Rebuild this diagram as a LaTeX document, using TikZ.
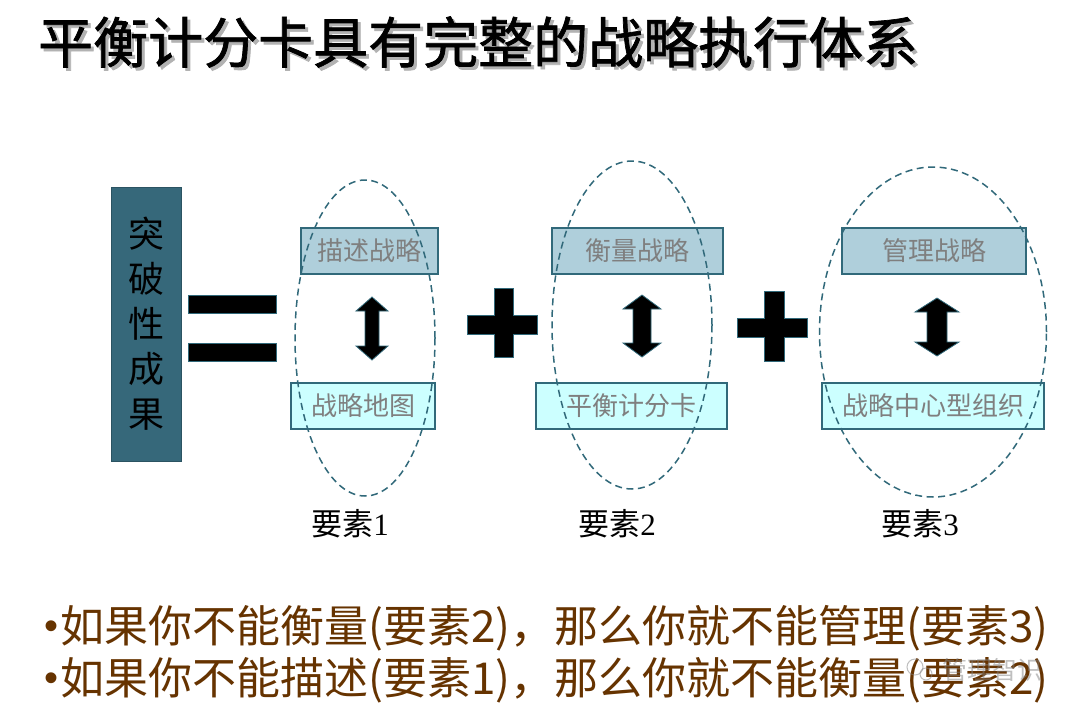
\documentclass[tikz,border=0pt]{standalone}
\usepackage{fontspec}
\newfontfamily\cjk{Noto Sans CJK SC}
\newfontfamily\cjkt[FakeBold=1.3]{Noto Sans CJK SC}
\newfontfamily\serifdig{Liberation Serif}
\newfontfamily\sansbul{Liberation Sans}
\usetikzlibrary{shapes.geometric}
\definecolor{teal1}{HTML}{31697A}
\definecolor{topfill}{HTML}{AFCFDB}
\definecolor{botfill}{HTML}{CCFFFF}
\definecolor{txtgray}{HTML}{7F7F7F}
\definecolor{leftbox}{HTML}{36687A}
\definecolor{brown1}{HTML}{663300}
\newcommand\DArrow[6]{% name, cx, top, bottom, half head width, half shaft width
  \coordinate (#1) at (#2,{(#3+#4)/2});
  \filldraw[fill=black,draw=teal1,line width=0.8pt]
    (#2,#3) -- (#2+#5,#3+14) -- (#2+#6,#3+14) -- (#2+#6,#4-14) -- (#2+#5,#4-14)
    -- (#2,#4) -- (#2-#5,#4-14) -- (#2-#6,#4-14) -- (#2-#6,#3+14) -- (#2-#5,#3+14) -- cycle;}
\newcommand\PlusSign[9]{% name, hx1, hx2, hy1, hy2, vx1, vx2, vy1, vy2
  \coordinate (#1) at ({(#2+#3)/2},{(#4+#5)/2});
  \filldraw[fill=black,draw=teal1,line width=1pt]
    (#2,#4) -- (#6,#4) -- (#6,#8) -- (#7,#8) -- (#7,#4) -- (#3,#4) -- (#3,#5) -- (#7,#5)
    -- (#7,#9) -- (#6,#9) -- (#6,#5) -- (#2,#5) -- cycle;}
\tikzset{
  topbox/.style={draw=teal1,line width=1.2pt,fill=topfill,minimum height=46pt,inner sep=0pt,
    font=\cjk\fontsize{26}{26}\selectfont,text=txtgray},
  botbox/.style={draw=teal1,line width=1.2pt,fill=botfill,minimum height=46pt,inner sep=0pt,
    font=\cjk\fontsize{26}{26}\selectfont,text=txtgray},
  dashell/.style={ellipse,draw=teal1,dash pattern=on 7pt off 4.5pt,line width=1.5pt,inner sep=0pt},
  elemlabel/.style={font=\cjk\fontsize{31}{31}\selectfont,text=black},
  bullettext/.style={anchor=west,font=\cjk\fontsize{44}{44}\selectfont,text=brown1,inner sep=0pt},
  bulletdot/.style={anchor=west,font=\sansbul\fontsize{40}{40}\selectfont,text=brown1,inner sep=0pt},
  eqbar/.style={draw=teal1,line width=1pt,fill=black,minimum width=88pt,minimum height=18pt,inner sep=0pt},
  titletext/.style={anchor=west,inner sep=0pt,font=\cjkt\fontsize{55}{55}\selectfont}
}
\begin{document}
\begin{tikzpicture}[x=1pt,y=-1pt]
\useasboundingbox (0,0) rectangle (1080,721);
\fill[white] (0,0) rectangle (1080,721);
% title with shadow
\node[titletext,text=black!30] (titleshadow) at (41,45) {平衡计分卡具有完整的战略执行体系};
\node[titletext,text=black] (title) at (38,42) {平衡计分卡具有完整的战略执行体系};
% left box
\node[fill=leftbox,draw=leftbox!80!black,line width=0.6pt,minimum width=70pt,minimum height=274pt,inner sep=0pt,
  align=center,font=\cjk\fontsize{36}{45}\selectfont] (res) at (146,324) {突\\破\\性\\成\\果};
% equals
\node[eqbar] (eq1) at (232,304) {};
\node[eqbar] (eq2) at (232,352) {};
% element 1
\node[topbox,minimum width=137pt] (t1) at (369.5,251) {描述战略};
\node[botbox,minimum width=144pt] (b1) at (363,406) {战略地图};
\DArrow{a1}{372}{297}{360}{16}{7}
\node[dashell,minimum width=140pt,minimum height=316pt] (e1) at (365,338) {};
\node[elemlabel] (l1) at (350,524) {要素{\serifdig 1}};
% plus 1
\PlusSign{p1}{467}{537}{315}{334}{494}{513}{288}{357}
% element 2
\node[topbox,minimum width=171pt] (t2) at (637.5,251) {衡量战略};
\node[botbox,minimum width=191pt] (b2) at (631.5,406) {平衡计分卡};
\DArrow{a2}{642}{295}{357}{19}{9}
\node[dashell,minimum width=160pt,minimum height=328pt] (e2) at (632,325) {};
\node[elemlabel] (l2) at (617,524) {要素{\serifdig 2}};
% plus 2
\PlusSign{p2}{737}{807}{318}{337}{764}{784}{291}{361}
% element 3
\node[topbox,minimum width=184pt] (t3) at (934,251) {管理战略};
\node[botbox,minimum width=222pt] (b3) at (933,406) {战略中心型组织};
\DArrow{a3}{937}{298}{356}{22}{10}
\node[dashell,minimum width=227pt,minimum height=330pt] (e3) at (933,332) {};
\node[elemlabel] (l3) at (920,524) {要素{\serifdig 3}};
% bottom lines
\node[bulletdot] (d1) at (44,630) {•};
\node[bullettext] (s1) at (60,628) {如果你不能衡量(要素2)，那么你就不能管理(要素3)};
\node[bulletdot] (d2) at (44,682) {•};
\node[bullettext] (s2) at (60,680) {如果你不能描述(要素1)，那么你就不能衡量(要素2)};
% watermark
\node[font=\cjk\fontsize{25}{25}\selectfont,text=gray,opacity=0.5,inner sep=0pt] (wm) at (992,670) {管理智识};
\draw[gray,opacity=0.5,line width=1pt] (915,667) circle (8pt);
\draw[gray,opacity=0.5,line width=1pt] (926,674) circle (6pt);
\end{tikzpicture}
\end{document}
